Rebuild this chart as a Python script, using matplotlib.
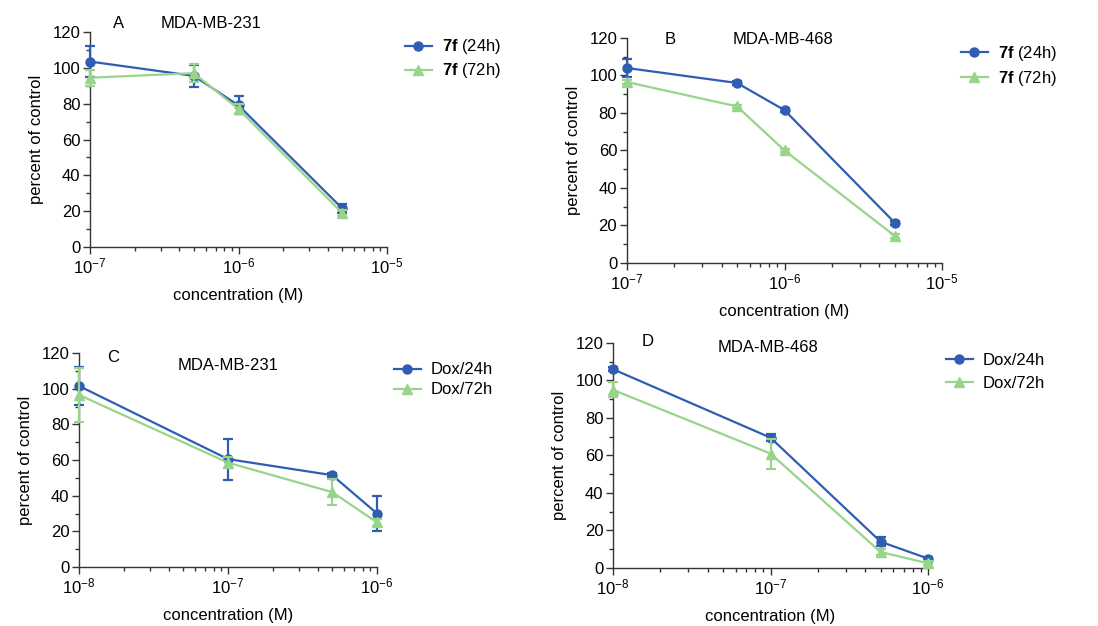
import matplotlib
matplotlib.use("Agg")
import matplotlib.pyplot as plt
from matplotlib.lines import Line2D
from matplotlib.ticker import MultipleLocator, LogLocator

plt.rcParams['font.family'] = ['Liberation Sans', 'DejaVu Sans']
plt.rcParams['mathtext.fontset'] = 'custom'
plt.rcParams['mathtext.rm'] = 'Liberation Sans'
plt.rcParams['mathtext.bf'] = 'Liberation Sans:bold'
plt.rcParams['axes.unicode_minus'] = False
plt.rcParams['font.size'] = 12

blue = '#2f5db2'
green = '#98d48a'

# panel A / B: 7f
conc_7f = [1e-7, 5e-7, 1e-6, 5e-6]
a_24 = [103.5, 95.5, 79, 21.5]
a_24_err = [8.5, 6, 5, 2.5]
a_72 = [94.5, 97, 77, 19]
a_72_err = [4.5, 5, 3, 1.5]

b_24 = [104, 96, 81.5, 21.5]
b_24_err = [5, 1, 1, 1]
b_72 = [96.5, 83.5, 60, 14.5]
b_72_err = [1, 1, 1, 1]

# panel C / D: Dox
conc_dox = [1e-8, 1e-7, 5e-7, 1e-6]
c_24 = [101.5, 60.5, 51.5, 30]
c_24_err = [10.5, 11.5, 1, 10]
c_72 = [96.5, 58.5, 42, 25]
c_72_err = [15, 3, 7.5, 2]

d_24 = [106, 69.5, 14, 5]
d_24_err = [1, 2, 2.5, 1]
d_72 = [95, 61, 8.5, 2.5]
d_72_err = [4, 8, 1.5, 1]

fig = plt.figure(figsize=(10.98, 6.26), dpi=100)

panels = [
    # rect, x, y24, e24, y72, e72, xlim, letter, letter pos, cell, cell pos, labels, legend anchor
    ([0.082, 0.6054, 0.2705, 0.3435], conc_7f, a_24, a_24_err, a_72, a_72_err, (1e-7, 1e-5),
     'A', (113/1098, 1-24/626), 'MDA-MB-231', (161/1098, 1-24/626),
     [r'$\mathbf{7f}$ (24h)', r'$\mathbf{7f}$ (72h)'], (405/1098, 1-59/626), 0.3),
    ([0.571, 0.5799, 0.287, 0.3594], conc_7f, b_24, b_24_err, b_72, b_72_err, (1e-7, 1e-5),
     'B', (665/1098, 1-39/626), 'MDA-MB-468', (733/1098, 1-39/626),
     [r'$\mathbf{7f}$ (24h)', r'$\mathbf{7f}$ (72h)'], (961/1098, 1-66/626), 0.35),
    ([0.072, 0.0942, 0.2714, 0.3419], conc_dox, c_24, c_24_err, c_72, c_72_err, (1e-8, 1e-6),
     'C', (107/1098, 1-358/626), 'MDA-MB-231', (178/1098, 1-365/626),
     ['Dox/24h', 'Dox/72h'], (394/1098, 1-380/626), 0.3),
    ([0.5583, 0.0927, 0.2869, 0.3594], conc_dox, d_24, d_24_err, d_72, d_72_err, (1e-8, 1e-6),
     'D', (642/1098, 1-341/626), 'MDA-MB-468', (718/1098, 1-347/626),
     ['Dox/24h', 'Dox/72h'], (946/1098, 1-372/626), 0.45),
]

for rect, x, y24, e24, y72, e72, xlim, letter, lpos, cell, cpos, labels, lg, lsp in panels:
    ax = fig.add_axes(rect)
    ax.errorbar(x, y24, yerr=e24, color=blue, marker='o', markersize=6.5, lw=1.6,
                capsize=3.5, elinewidth=1.6, capthick=1.6, clip_on=False, zorder=3)
    ax.errorbar(x, y72, yerr=e72, color=green, marker='^', markersize=6.5, lw=1.6,
                capsize=3.5, elinewidth=1.6, capthick=1.6, clip_on=False, zorder=4)
    ax.set_xscale('log')
    ax.set_xlim(*xlim)
    ax.set_ylim(0, 120)
    ax.yaxis.set_major_locator(MultipleLocator(20))
    ax.yaxis.set_minor_locator(MultipleLocator(10))
    ax.xaxis.set_minor_locator(LogLocator(base=10, subs=range(2, 10)))
    for s in ['top', 'right']:
        ax.spines[s].set_visible(False)
    for s in ['left', 'bottom']:
        ax.spines[s].set_linewidth(1.0)
        ax.spines[s].set_color('#333333')
    ax.tick_params(which='major', length=5, width=1.0, color='#333333', labelsize=12, pad=2)
    ax.tick_params(which='minor', length=3, width=1.0, color='#333333')
    ax.set_ylabel('percent of control', fontsize=12, labelpad=6)
    ax.set_xlabel('concentration (M)', fontsize=12, labelpad=8)
    fig.text(lpos[0], lpos[1], letter, fontsize=12, va='center', ha='left')
    fig.text(cpos[0], cpos[1], cell, fontsize=12, va='center', ha='left')
    handles = [Line2D([], [], color=blue, marker='o', markersize=6.5, lw=1.6),
               Line2D([], [], color=green, marker='^', markersize=6.5, lw=1.6)]
    fig.legend(handles, labels, loc='center left', bbox_to_anchor=lg, frameon=False, fontsize=12,
               handlelength=1.6, handletextpad=0.6, labelspacing=lsp, borderpad=0,
               borderaxespad=0)

fig.savefig('out.png', dpi=100)
